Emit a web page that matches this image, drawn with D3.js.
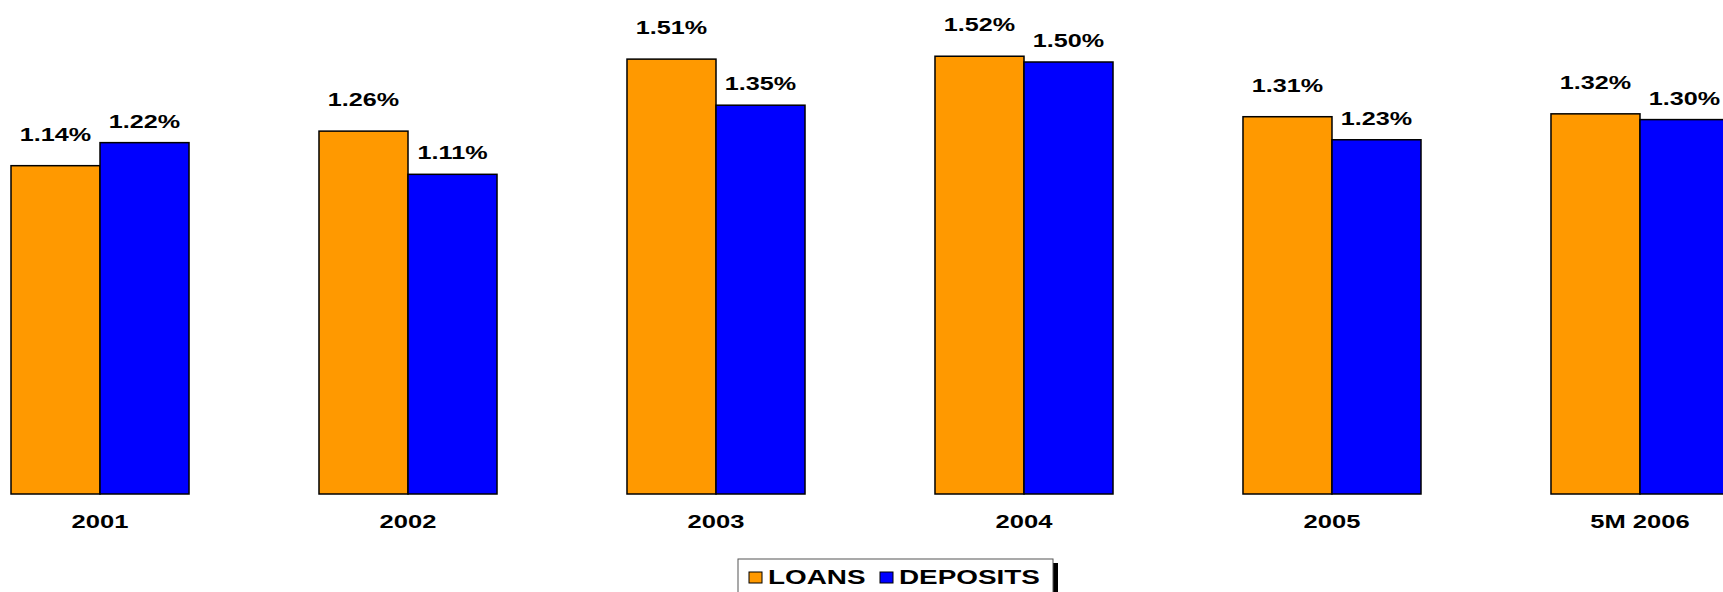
<!DOCTYPE html>
<html>
<head>
<meta charset="utf-8">
<script src="https://cdn.jsdelivr.net/npm/d3@7"></script>
<style>
  body { margin: 0; background: #fff; }
  text { font-family: "Liberation Sans", Arial, sans-serif; font-weight: bold; fill: #000; }
</style>
</head>
<body>
<div id="chart"></div>
<script>
// data
var categories = ["2001", "2002", "2003", "2004", "2005", "5M 2006"]
var loans = [1.14, 1.26, 1.51, 1.52, 1.31, 1.32]
var deposits = [1.22, 1.11, 1.35, 1.50, 1.23, 1.30]
var seriesNames = ["LOANS", "DEPOSITS"]
var seriesColors = ["#FF9900", "#0000FF"]

var width = 1723, height = 592
var baseY = 494

var svg = d3.select("#chart")
    .append("svg")
    .attr("width", width)
    .attr("height", height)

var x = d3.scaleBand()
    .domain(categories)
    .range([11, 1729])
    .paddingInner(0.422)
    .paddingOuter(0)

var xSub = d3.scaleBand()
    .domain([0, 1])
    .range([0, x.bandwidth()])

var y = d3.scaleLinear()
    .domain([0, 1.6])
    .range([baseY, baseY - 288 * 1.6])

// stretched bold text, like the original
function wideText(g, tx, ty, str, size, sx) {
    g.append("text")
        .attr("transform", "translate(" + tx + "," + ty + ") scale(" + sx + ",1)")
        .attr("text-anchor", "middle")
        .style("font-size", size + "px")
        .text(str)
}

var rows = categories.map(function (c, i) {
    return { cat: c, vals: [loans[i], deposits[i]] }
})

var groups = svg.selectAll("g.grp")
    .data(rows)
    .enter()
    .append("g")
    .attr("class", "grp")
    .attr("transform", function (d) { return "translate(" + x(d.cat) + ",0)" })

groups.selectAll("rect")
    .data(function (d) { return d.vals })
    .enter()
    .append("rect")
    .attr("x", function (d, i) { return xSub(i) })
    .attr("y", function (d) { return y(d) })
    .attr("width", xSub.bandwidth())
    .attr("height", function (d) { return baseY - y(d) })
    .attr("fill", function (d, i) { return seriesColors[i] })
    .attr("stroke", "#000")
    .attr("stroke-width", 1.5)

var labelGap = [25, 15]
groups.each(function (d) {
    var g = d3.select(this)
    d.vals.forEach(function (v, i) {
        wideText(g, xSub(i) + xSub.bandwidth() / 2, y(v) - labelGap[i], v.toFixed(2) + "%", 18, 1.4)
    })
    wideText(g, x.bandwidth() / 2, 528, d.cat, 18, 1.42)
})

// legend
var legend = svg.append("g")
legend.append("rect")
    .attr("x", 1053).attr("y", 563)
    .attr("width", 5).attr("height", 40)
    .attr("fill", "#000")
legend.append("rect")
    .attr("x", 738).attr("y", 559)
    .attr("width", 315).attr("height", 45)
    .attr("fill", "#fff")
    .attr("stroke", "#555")
    .attr("stroke-width", 1)

var legendX = [749, 880]
seriesNames.forEach(function (name, i) {
    legend.append("rect")
        .attr("x", legendX[i]).attr("y", 572)
        .attr("width", 13).attr("height", 11)
        .attr("fill", seriesColors[i])
        .attr("stroke", "#000")
        .attr("stroke-width", 1)
    legend.append("text")
        .attr("transform", "translate(" + (legendX[i] + 19) + ",584) scale(1.36,1)")
        .style("font-size", "20.5px")
        .text(name)
})
</script>
</body>
</html>
